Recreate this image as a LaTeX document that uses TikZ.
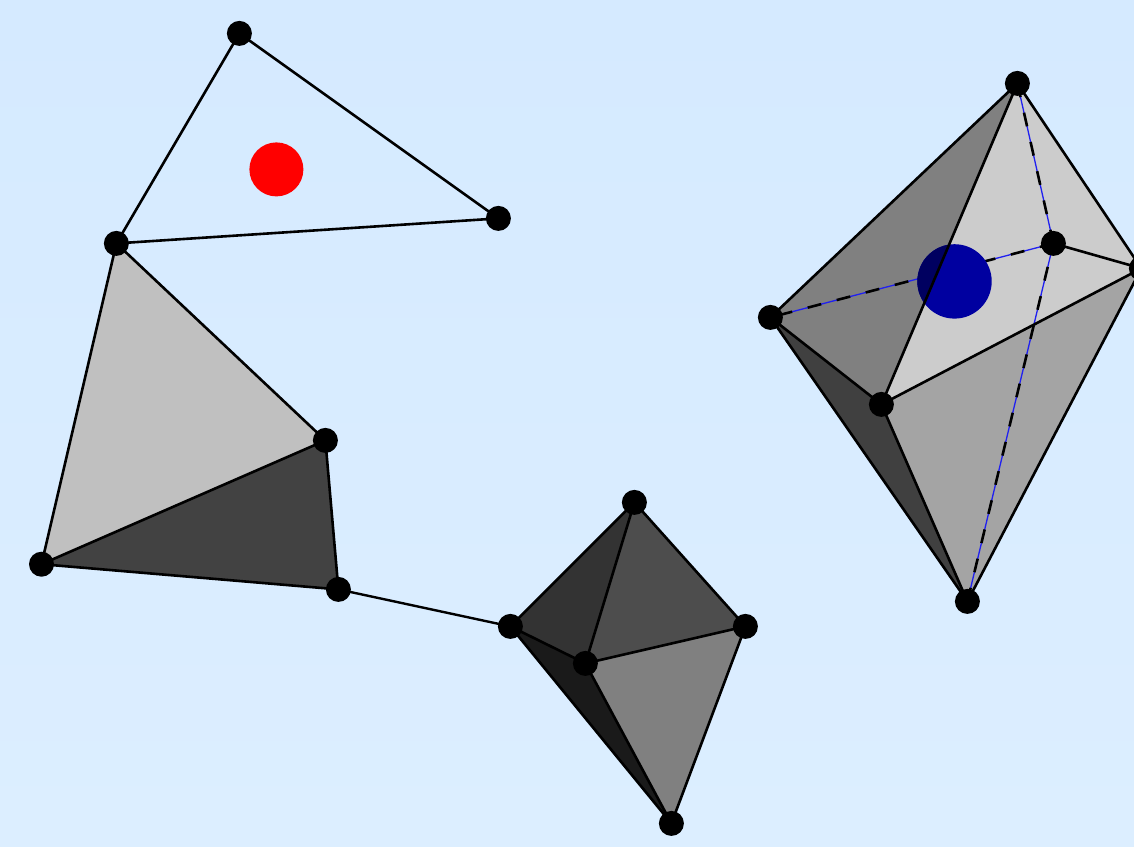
\documentclass[tikz,border=0pt]{standalone}
\usetikzlibrary{backgrounds}
\definecolor{bgtop}{HTML}{D5EAFF}
\definecolor{bgbot}{HTML}{DCEEFF}
\definecolor{fA}{HTML}{C0C0C0}
\definecolor{fB}{HTML}{424242}
\definecolor{fC}{HTML}{808080}
\definecolor{fD}{HTML}{CCCCCC}
\definecolor{fE}{HTML}{A4A4A4}
\definecolor{fF}{HTML}{404040}
\definecolor{fG}{HTML}{333333}
\definecolor{fH}{HTML}{4D4D4D}
\definecolor{fI}{HTML}{808080}
\definecolor{fJ}{HTML}{1A1A1A}
\definecolor{blueball}{HTML}{0000A0}
\definecolor{blueshade}{HTML}{000060}
\definecolor{hidden}{HTML}{2020F0}
\tikzset{
  vertex/.style={circle,fill=black,draw=none,inner sep=0pt,minimum size=25pt},
  edge/.style={draw=black,line width=2.6pt},
  link/.style={draw=black,line width=2.4pt},
  hiddenblue/.style={draw=hidden,line width=1.3pt},
  hiddenblack/.style={draw=black,line width=2.6pt,dash pattern=on 14pt off 16pt},
  ball/.style={circle,inner sep=0pt,draw=none}
}
\begin{document}
\begin{tikzpicture}[x=1pt,y=-1pt]
\useasboundingbox (0,0) rectangle (1134,846);
\clip (0,0) rectangle (1134,846);
% vertices
\node[vertex] (a) at (239.4,33.4) {};
\node[vertex] (b) at (498.4,218.4) {};
\node[vertex] (c) at (116.4,243.4) {};
\node[vertex] (d) at (325.4,440.4) {};
\node[vertex] (e) at (41.5,564.2) {};
\node[vertex] (f) at (338.4,589.4) {};
\node[vertex] (g) at (510.4,626.4) {};
\node[vertex] (h) at (634.4,502.4) {};
\node[vertex] (i) at (745.4,626.4) {};
\node[vertex] (j) at (585.4,663.4) {};
\node[vertex] (k) at (671.4,823.4) {};
\node[vertex] (t) at (1017.4,83.4) {};
\node[vertex] (r) at (1053.4,243.4) {};
\node[vertex] (s) at (1141.4,268.4) {};
\node[vertex] (l) at (770.4,317.4) {};
\node[vertex] (m) at (881.4,404.4) {};
\node[vertex] (u) at (967.4,601.4) {};
\begin{scope}[on background layer]
\shade[top color=bgtop,bottom color=bgbot] (0,0) rectangle (1134,846);
% left triangles
\fill[fA] (c.center) -- (d.center) -- (e.center) -- cycle;
\fill[fB] (d.center) -- (e.center) -- (f.center) -- cycle;
% small octahedron
\fill[fJ] (g.center) -- (j.center) -- (k.center) -- cycle;
\fill[fG] (g.center) -- (h.center) -- (j.center) -- cycle;
\fill[fH] (h.center) -- (i.center) -- (j.center) -- cycle;
\fill[fI] (j.center) -- (i.center) -- (k.center) -- cycle;
% large octahedron faces
\fill[fF] (l.center) -- (m.center) -- (u.center) -- cycle;
\fill[fE] (m.center) -- (s.center) -- (u.center) -- cycle;
\fill[fC] (t.center) -- (l.center) -- (m.center) -- cycle;
\fill[fD] (t.center) -- (s.center) -- (m.center) -- cycle;
% hidden edges
\foreach \p/\q in {r/l,t/r,u/r}{
  \draw[hiddenblue] (\p.center) -- (\q.center);
  \draw[hiddenblack] (\p.center) -- (\q.center);
}
% ball behind the translucent faces
\node[ball,fill=blueball,minimum size=74.4pt] (ballb) at (954.5,281.4) {};
\begin{scope}
\clip (t.center) -- (l.center) -- (m.center) -- cycle;
\node[ball,fill=blueshade,minimum size=74.4pt] (ballc) at (954.5,281.4) {};
\end{scope}
\node[ball,fill=red,minimum size=54pt] (ballr) at (276.4,169.4) {};
% edges
\draw[edge] (a.center) -- (b.center);
\draw[edge] (b.center) -- (c.center);
\draw[edge] (c.center) -- (a.center);
\draw[edge] (c.center) -- (d.center);
\draw[edge] (c.center) -- (e.center);
\draw[edge] (d.center) -- (e.center);
\draw[edge] (d.center) -- (f.center);
\draw[edge] (e.center) -- (f.center);
\draw[link] (f.center) -- (g.center);
\draw[edge] (g.center) -- (h.center);
\draw[edge] (h.center) -- (i.center);
\draw[edge] (i.center) -- (k.center);
\draw[edge] (g.center) -- (k.center);
\draw[edge] (g.center) -- (j.center);
\draw[edge] (h.center) -- (j.center);
\draw[edge] (i.center) -- (j.center);
\draw[edge] (j.center) -- (k.center);
\draw[edge] (t.center) -- (l.center);
\draw[edge] (t.center) -- (m.center);
\draw[edge] (t.center) -- (s.center);
\draw[edge] (l.center) -- (m.center);
\draw[edge] (l.center) -- (u.center);
\draw[edge] (m.center) -- (u.center);
\draw[edge] (m.center) -- (s.center);
\draw[edge] (s.center) -- (u.center);
\draw[edge] (r.center) -- (s.center);
\end{scope}
\end{tikzpicture}
\end{document}
